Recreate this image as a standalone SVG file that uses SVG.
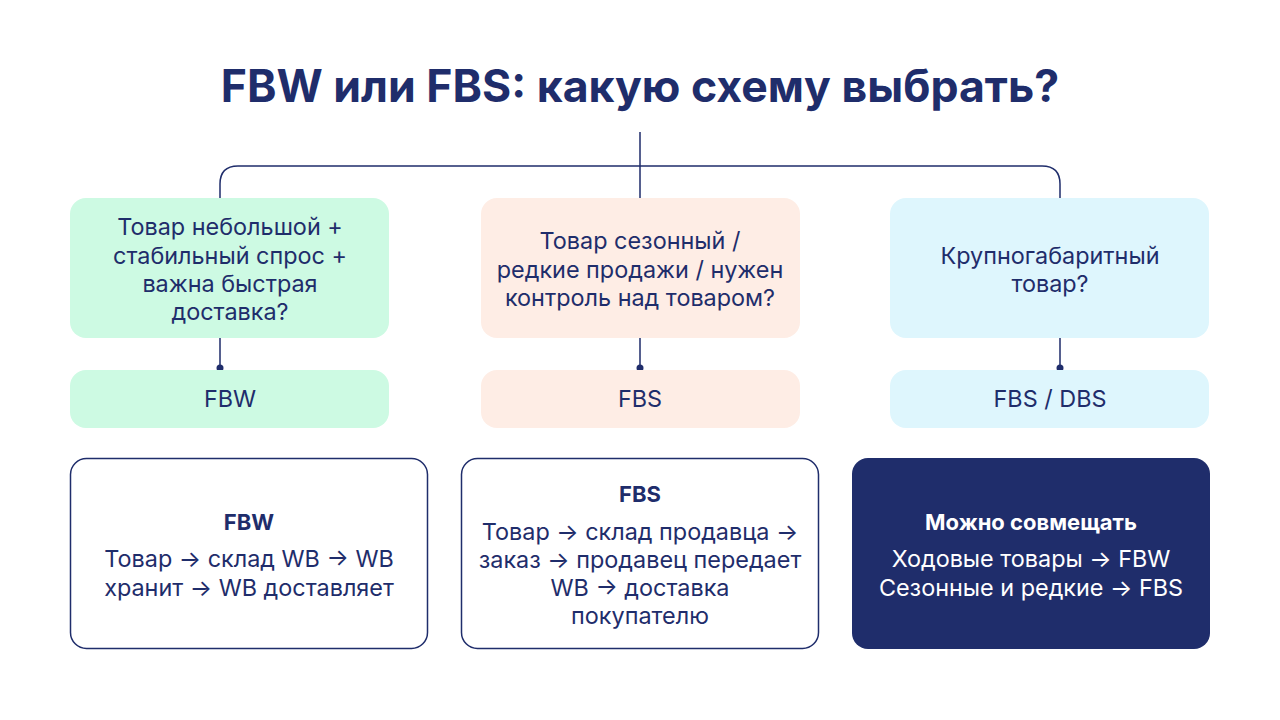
<svg xmlns="http://www.w3.org/2000/svg" width="1280" height="720" viewBox="0 0 1280 720">
<style>
text{font-family:Inter,"Noto Sans",sans-serif;fill:#1f2d6b;text-anchor:middle}
.t{font-size:23.4px}
.b{font-size:22px;font-weight:700}
.w{fill:#fff}
.ln{fill:none;stroke:#1f2d6b;stroke-width:1.5}
</style>
<rect width="1280" height="720" fill="#fff"/>
<text x="640" y="102" font-size="44.6" font-weight="700">FBW или FBS: какую схему выбрать?</text>
<g id="connectors">
<path class="ln" d="M640 132V198M220 198V184Q220 166 238 166H1042Q1060 166 1060 184V198"/>
<path class="ln" d="M220 338V368M640 338V368M1060 338V368"/>
<circle cx="220" cy="368" r="3.5" fill="#1f2d6b"/><circle cx="640" cy="368" r="3.5" fill="#1f2d6b"/><circle cx="1060" cy="368" r="3.5" fill="#1f2d6b"/>
</g>
<g id="q1"><rect x="70" y="198" width="319" height="140" rx="16" fill="#cdfae3"/>
<text class="t"><tspan x="230" y="235">Товар небольшой +</tspan><tspan x="230" y="264">стабильный спрос +</tspan><tspan x="230" y="292">важна быстрая</tspan><tspan x="230" y="320">доставка?</tspan></text></g>
<g id="q2"><rect x="481" y="198" width="319" height="140" rx="16" fill="#feede5"/>
<text class="t"><tspan x="640" y="249">Товар сезонный /</tspan><tspan x="640" y="278">редкие продажи / нужен</tspan><tspan x="640" y="306">контроль над товаром?</tspan></text></g>
<g id="q3"><rect x="890" y="198" width="319" height="140" rx="16" fill="#def6fd"/>
<text class="t"><tspan x="1050" y="264">Крупногабаритный</tspan><tspan x="1050" y="292">товар?</tspan></text></g>
<g id="r1"><rect x="70" y="370" width="319" height="58" rx="16" fill="#cdfae3"/><text class="t" x="230" y="407">FBW</text></g>
<g id="r2"><rect x="481" y="370" width="319" height="58" rx="16" fill="#feede5"/><text class="t" x="640" y="407">FBS</text></g>
<g id="r3"><rect x="890" y="370" width="319" height="58" rx="16" fill="#def6fd"/><text class="t" x="1050" y="407">FBS / DBS</text></g>
<g id="d1"><rect x="70.5" y="458.5" width="357" height="190" rx="16" fill="#fff" stroke="#1f2d6b" stroke-width="1.5"/>
<text class="b" x="249" y="530">FBW</text>
<text class="t"><tspan x="249" y="567">Товар → склад WB → WB</tspan><tspan x="249" y="596">хранит → WB доставляет</tspan></text></g>
<g id="d2"><rect x="461.5" y="458.5" width="357" height="190" rx="16" fill="#fff" stroke="#1f2d6b" stroke-width="1.5"/>
<text class="b" x="640" y="502">FBS</text>
<text class="t"><tspan x="640" y="540">Товар → склад продавца →</tspan><tspan x="640" y="568">заказ → продавец передает</tspan><tspan x="640" y="596">WB → доставка</tspan><tspan x="640" y="624">покупателю</tspan></text></g>
<g id="d3"><rect x="852" y="458" width="358" height="191" rx="16" fill="#1f2d6b"/>
<text class="b w" x="1031" y="530">Можно совмещать</text>
<text class="t w"><tspan x="1031" y="567">Ходовые товары → FBW</tspan><tspan x="1031" y="596">Сезонные и редкие → FBS</tspan></text></g>
</svg>
